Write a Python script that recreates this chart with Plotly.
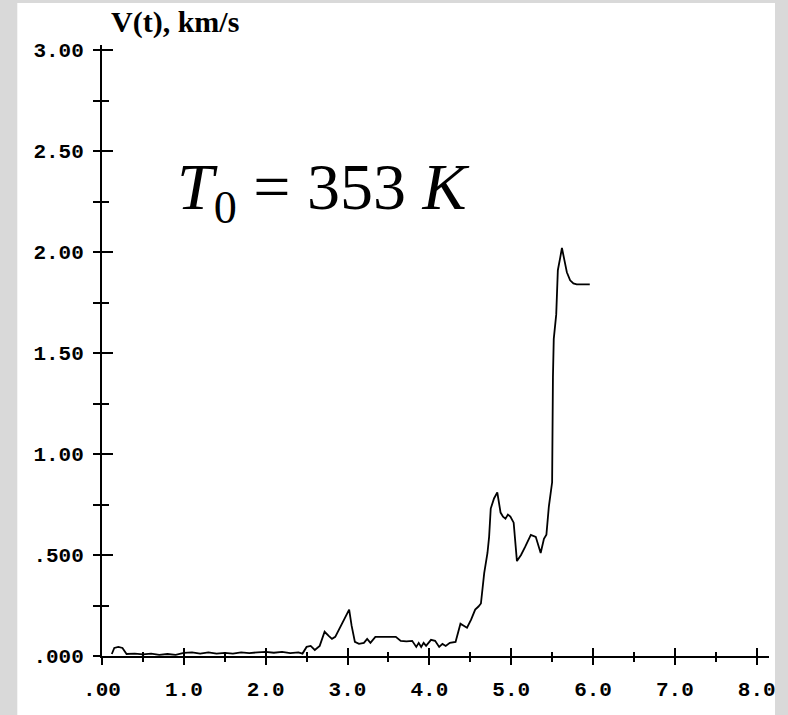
import plotly.graph_objects as go

time_us = [0.12, 0.15, 0.2, 0.25, 0.3, 0.4, 0.5, 0.6, 0.7, 0.8, 0.9, 1.0, 1.1, 1.2, 1.3, 1.4, 1.5,
           1.6, 1.7, 1.8, 1.9, 2.0, 2.1, 2.2, 2.3, 2.4, 2.45, 2.5, 2.55, 2.6, 2.66, 2.72, 2.77,
           2.81, 2.85, 2.88, 2.95, 3.02, 3.05, 3.09, 3.14, 3.2, 3.24, 3.28, 3.34, 3.45, 3.59,
           3.65, 3.72, 3.79, 3.84, 3.87, 3.9, 3.93, 3.96, 4.02, 4.07, 4.12, 4.16, 4.2, 4.25,
           4.32, 4.38, 4.42, 4.46, 4.51, 4.56, 4.6, 4.63, 4.67, 4.71, 4.73, 4.75, 4.79, 4.83,
           4.87, 4.9, 4.93, 4.96, 4.99, 5.03, 5.07, 5.12, 5.17, 5.24, 5.3, 5.36, 5.4, 5.43,
           5.46, 5.5, 5.51, 5.52, 5.55, 5.57, 5.6, 5.62, 5.65, 5.68, 5.72, 5.76, 5.8, 5.9, 5.96]
velocity = [0.01, 0.04, 0.045, 0.04, 0.01, 0.012, 0.008, 0.012, 0.006, 0.01, 0.006, 0.015, 0.018,
            0.012, 0.018, 0.012, 0.015, 0.012, 0.018, 0.014, 0.018, 0.02, 0.016, 0.02, 0.014,
            0.018, 0.012, 0.045, 0.05, 0.03, 0.05, 0.12, 0.1, 0.085, 0.095, 0.12, 0.17, 0.23,
            0.15, 0.07, 0.06, 0.065, 0.085, 0.065, 0.095, 0.095, 0.095, 0.075, 0.072, 0.075,
            0.045, 0.065, 0.045, 0.065, 0.05, 0.08, 0.075, 0.045, 0.06, 0.05, 0.065, 0.07, 0.16,
            0.15, 0.14, 0.18, 0.23, 0.245, 0.26, 0.41, 0.51, 0.59, 0.73, 0.78, 0.81, 0.71, 0.69,
            0.68, 0.70, 0.69, 0.66, 0.47, 0.50, 0.54, 0.60, 0.59, 0.51, 0.58, 0.60, 0.74, 0.86,
            1.38, 1.57, 1.69, 1.91, 1.975, 2.02, 1.96, 1.90, 1.86, 1.845, 1.84, 1.84, 1.84]

x_tickvals = [0, 1, 2, 3, 4, 5, 6, 7, 8]
x_ticktext = [".00", "1.0", "2.0", "3.0", "4.0", "5.0", "6.0", "7.0", "8.0"]
y_tickvals = [0, 0.5, 1.0, 1.5, 2.0, 2.5, 3.0]
y_ticktext = [".000", ".500", "1.00", "1.50", "2.00", "2.50", "3.00"]
x_minor = [0.5, 1.5, 2.5, 3.5, 4.5, 5.5, 6.5, 7.5]
y_minor = [0.25, 0.75, 1.25, 1.75, 2.25, 2.75]

y_title = "V(t), km/s"
label_html = "<i>T</i><sub>0</sub> = 353 <i>K</i>"

tickfont = dict(family="Liberation Mono", size=21, color="black", weight="bold")

fig = go.Figure()
fig.add_trace(go.Scatter(x=time_us, y=velocity, mode="lines",
                         line=dict(color="black", width=1.8), xaxis="x", yaxis="y",
                         showlegend=False, hoverinfo="skip"))
fig.add_trace(go.Scatter(x=[None], y=[None], xaxis="x2", yaxis="y2", showlegend=False,
                         hoverinfo="skip"))

XR = [0, 8.15]
YR = [0, 3.025]

fig.update_layout(
    width=788, height=715,
    margin=dict(l=102, r=17, t=45, b=59),
    paper_bgcolor="#d9d9d9",
    plot_bgcolor="white",
    xaxis=dict(range=XR, showgrid=False, zeroline=False, showline=True, linecolor="black",
               linewidth=2, ticks="outside", ticklen=7, tickwidth=2, tickcolor="black",
               tickmode="array", tickvals=x_tickvals, ticktext=x_ticktext, tickfont=tickfont,
               ticklabelstandoff=6,
               minor=dict(tickmode="array", tickvals=x_minor, ticks="outside", ticklen=4,
                          tickwidth=2, tickcolor="black", showgrid=False),
               fixedrange=True),
    yaxis=dict(range=YR, showgrid=False, zeroline=False, showline=True, linecolor="black",
               linewidth=2, ticks="outside", ticklen=7, tickwidth=2, tickcolor="black",
               tickmode="array", tickvals=y_tickvals, ticktext=y_ticktext, tickfont=tickfont,
               ticklabelstandoff=5,
               minor=dict(tickmode="array", tickvals=y_minor, ticks="outside", ticklen=7,
                          tickwidth=2, tickcolor="black", showgrid=False),
               fixedrange=True),
    xaxis2=dict(range=XR, overlaying="x", anchor="y", side="bottom", showgrid=False,
                zeroline=False, showline=False, ticks="inside", ticklen=8, tickwidth=2,
                tickcolor="black", tickmode="array", tickvals=x_tickvals,
                showticklabels=False, fixedrange=True,
                minor=dict(tickmode="array", tickvals=x_minor, ticks="inside", ticklen=4,
                           tickwidth=2, tickcolor="black", showgrid=False)),
    yaxis2=dict(range=YR, overlaying="y", anchor="x", side="left", showgrid=False,
                zeroline=False, showline=False, ticks="inside", ticklen=11, tickwidth=2,
                tickcolor="black", tickmode="array", tickvals=y_tickvals,
                showticklabels=False, fixedrange=True,
                minor=dict(tickmode="array", tickvals=y_minor, ticks="inside", ticklen=7,
                           tickwidth=2, tickcolor="black", showgrid=False)),
    shapes=[dict(type="rect", xref="paper", yref="paper", x0=-0.127, x1=1.009,
                 y0=-0.2, y1=1.0687, fillcolor="white", line=dict(width=0), layer="below")],
    annotations=[
        dict(text="<b>" + y_title + "</b>", xref="paper", yref="paper", x=0.011, y=1.037,
             xanchor="left", yanchor="middle", showarrow=False,
             font=dict(family="Liberation Serif", size=30, color="black")),
        dict(text=label_html, xref="paper", yref="paper", x=0.109, y=0.76,
             xanchor="left", yanchor="middle", showarrow=False,
             font=dict(family="Liberation Serif", size=66, color="black")),
    ],
)

fig.write_html("out.html",
               config={"displayModeBar": False, "staticPlot": True},
               post_script="document.body.style.margin='0';"
                           "document.body.style.background='#d9d9d9';")
